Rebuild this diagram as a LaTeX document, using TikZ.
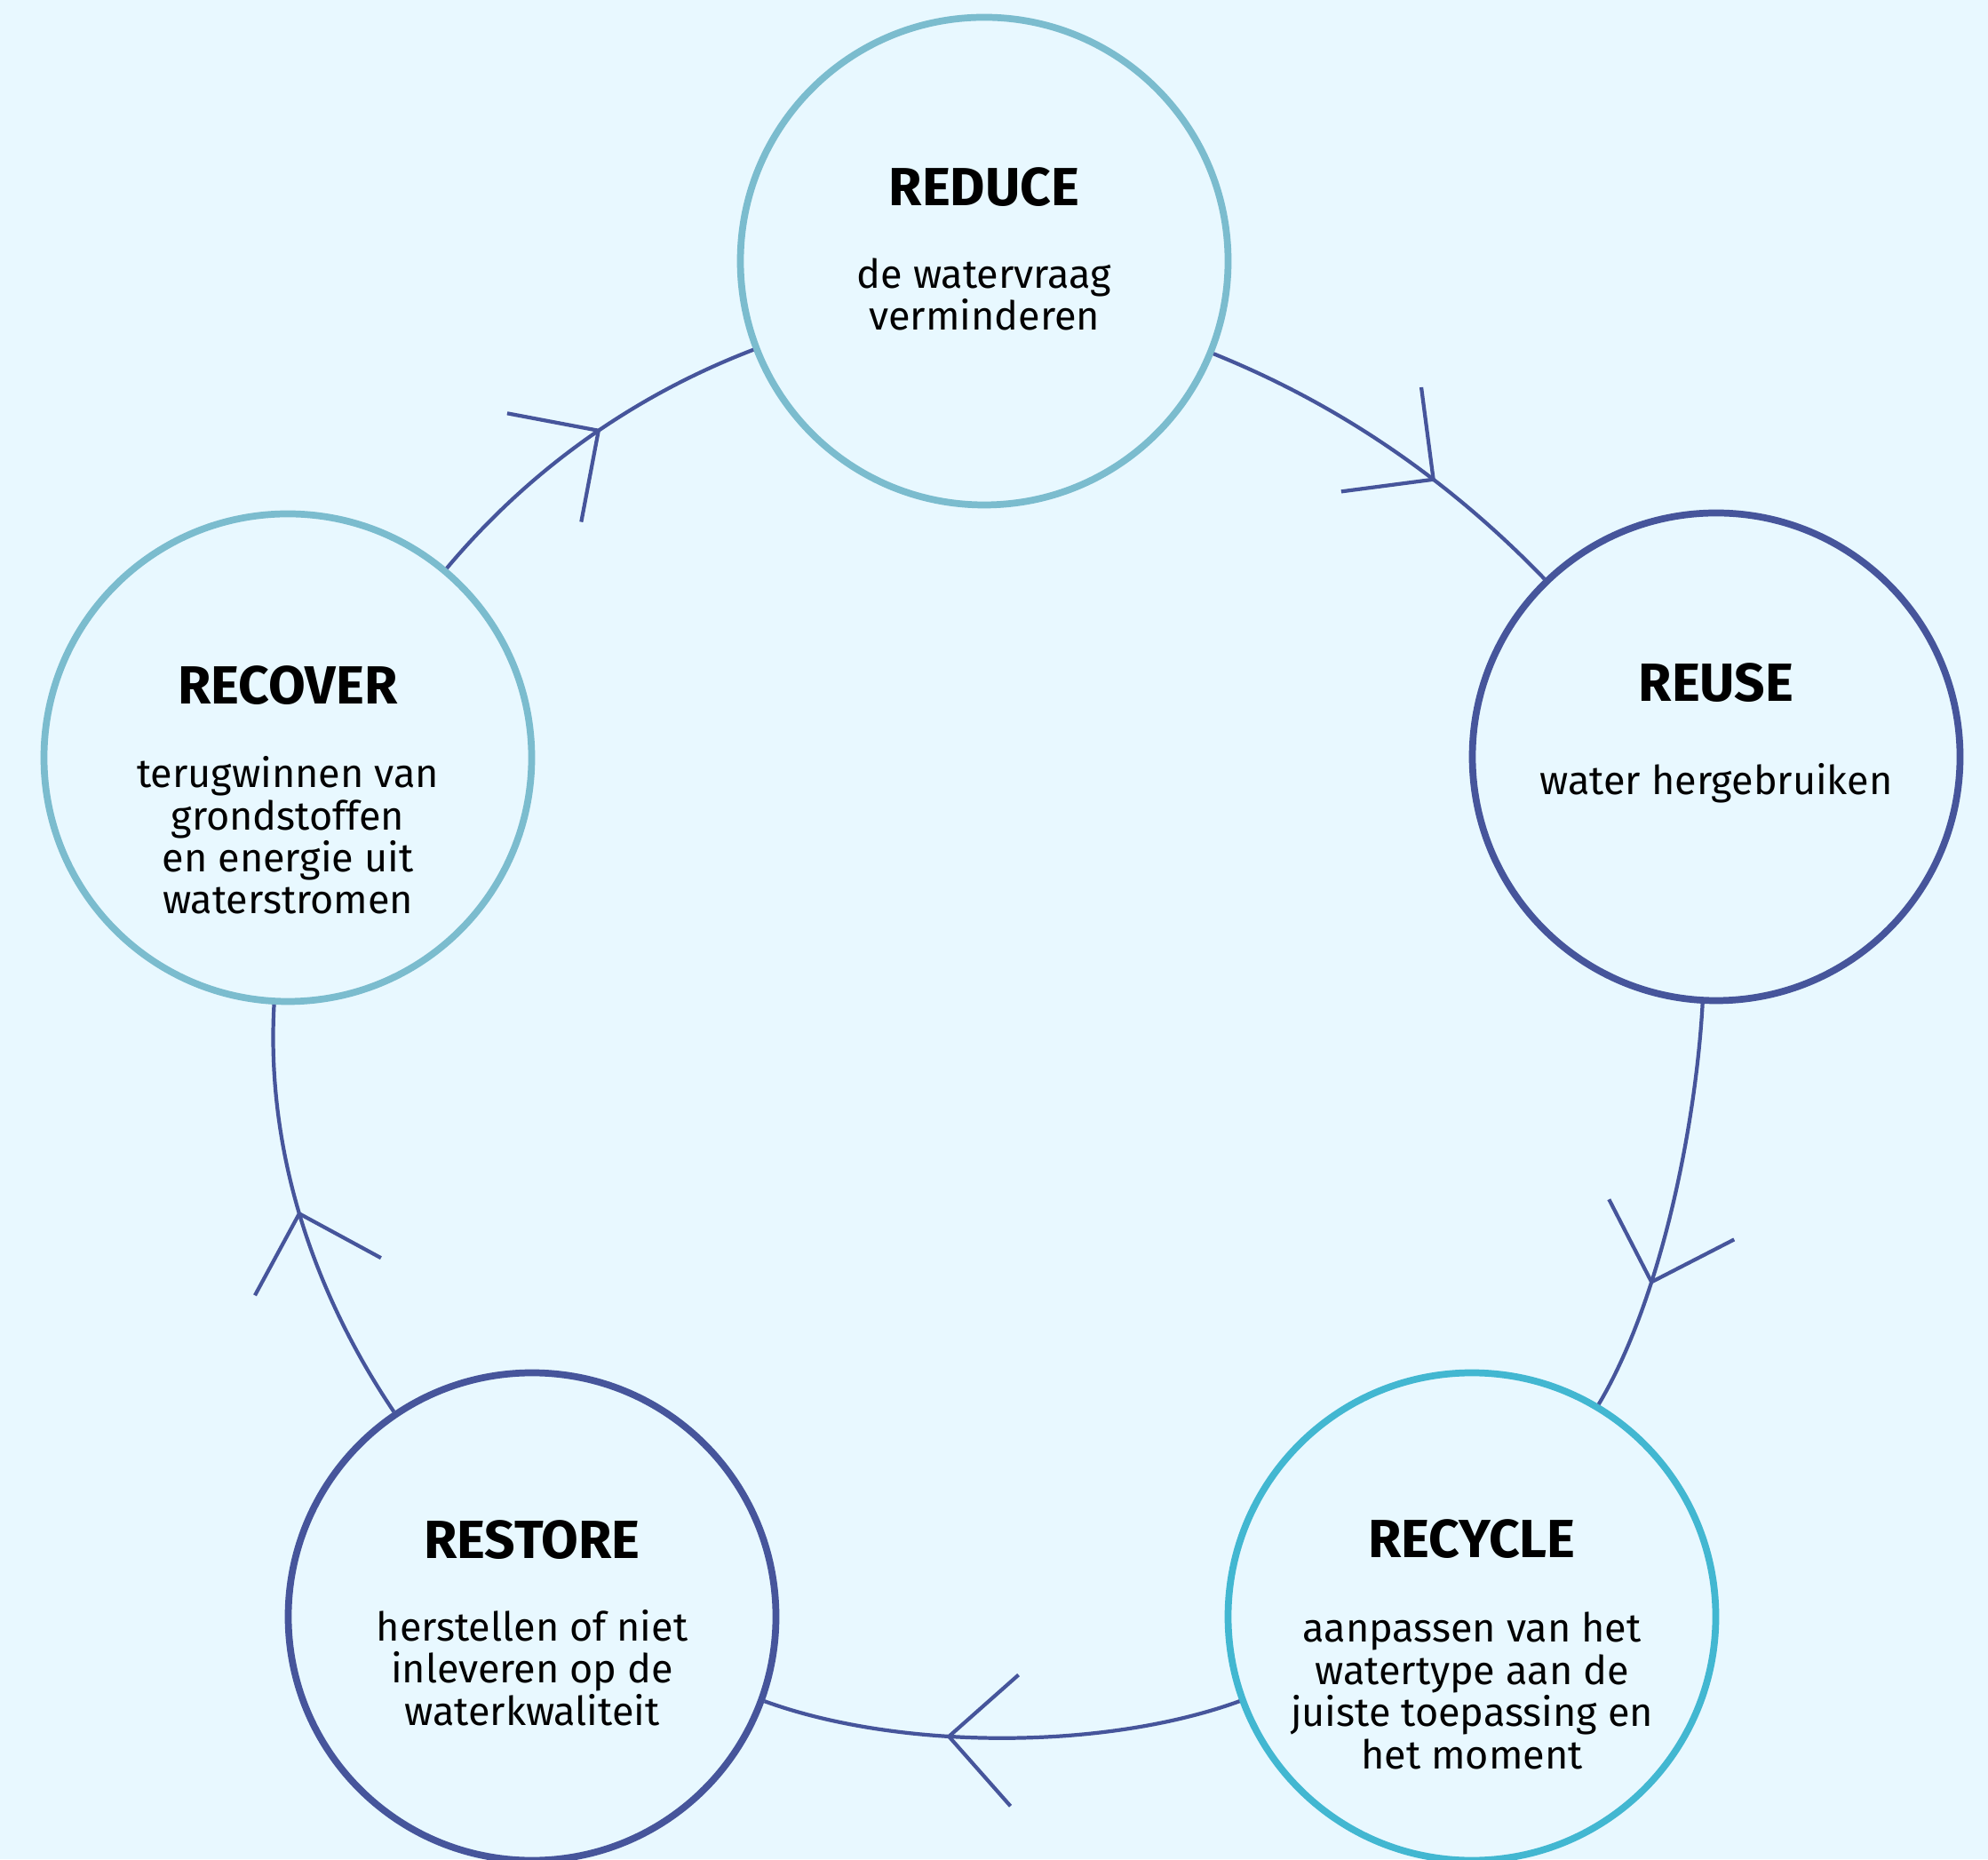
\documentclass[tikz,border=0pt]{standalone}
\usepackage{fontspec}
\setmainfont{Fira Sans}
\usetikzlibrary{decorations.markings}

\definecolor{paleblue}{HTML}{E8F8FF}
\definecolor{lightteal}{HTML}{7BBCCE}
\definecolor{darkblue}{HTML}{46559B}
\definecolor{brightcyan}{HTML}{42B7D1}

\begin{document}
\begin{tikzpicture}[stage node/.style={circle,draw,fill=paleblue,line width=2.2pt,minimum size=5.49cm,inner sep=0pt},
                    title text/.style={anchor=base,font=\bfseries\fontsize{17.2pt}{20pt}\selectfont},
                    body text/.style={anchor=base,align=center,font=\fontsize{12.8pt}{13.5pt}\selectfont},
                    flow/.style={draw=darkblue,line width=1.2pt,
                      decoration={markings,mark=at position #1 with {\draw[darkblue,line width=1.2pt] (-0.74,0.74) -- (0,0) -- (-0.74,-0.74);}},
                      postaction={decorate}}
                   ]
  \fill[paleblue] (0,0) rectangle (22.38,20.93);
  \useasboundingbox (0,0) rectangle (22.38,20.93);

  \node[stage node,draw=lightteal] (reduce) at (11.08,17.99) {};
  \node[stage node,draw=darkblue] (reuse) at (19.32,12.41) {};
  \node[stage node,draw=brightcyan] (recycle) at (16.57,2.73) {};
  \node[stage node,draw=darkblue] (restore) at (5.99,2.73) {};
  \node[stage node,draw=lightteal] (recover) at (3.24,12.40) {};

  \node[title text] (reducet) at (11.08,18.61) {REDUCE};
  \node[title text] (reuset) at (19.32,13.03) {REUSE};
  \node[title text] (recyclet) at (16.57,3.40) {RECYCLE};
  \node[title text] (restoret) at (5.99,3.39) {RESTORE};
  \node[title text] (recovert) at (3.24,13.00) {RECOVER};

  % base = last line
  \node[body text] (reduceb) at (11.08,17.21) {de watervraag\\verminderen};
  \node[body text] (reuseb) at (19.32,11.98) {water hergebruiken};
  \node[body text] (recycleb) at (16.57,1.02) {aanpassen van het\\watertype aan de\\juiste toepassing en\\het moment};
  \node[body text] (restoreb) at (5.99,1.51) {herstellen of niet\\inleveren op de\\waterkwaliteit};
  \node[body text] (recoverb) at (3.24,10.64) {terugwinnen van\\grondstoffen\\en energie uit\\waterstromen};

    \path%
      (reduce) edge [flow=0.63,out=-22,in=134,distance=1.54cm] (reuse)
      (reuse) edge [flow=0.68,out=-93.5,in=59.5,distance=1.37cm] (recycle)
      (recycle) edge [flow=0.61,out=-160,in=-20,distance=1.62cm] (restore)
      (restore) edge [flow=0.51,out=124,in=-93.5,distance=1.64cm] (recover)
      (recover) edge [flow=0.54,out=50,in=201,distance=1.45cm] (reduce);
\end{tikzpicture}
\end{document}
